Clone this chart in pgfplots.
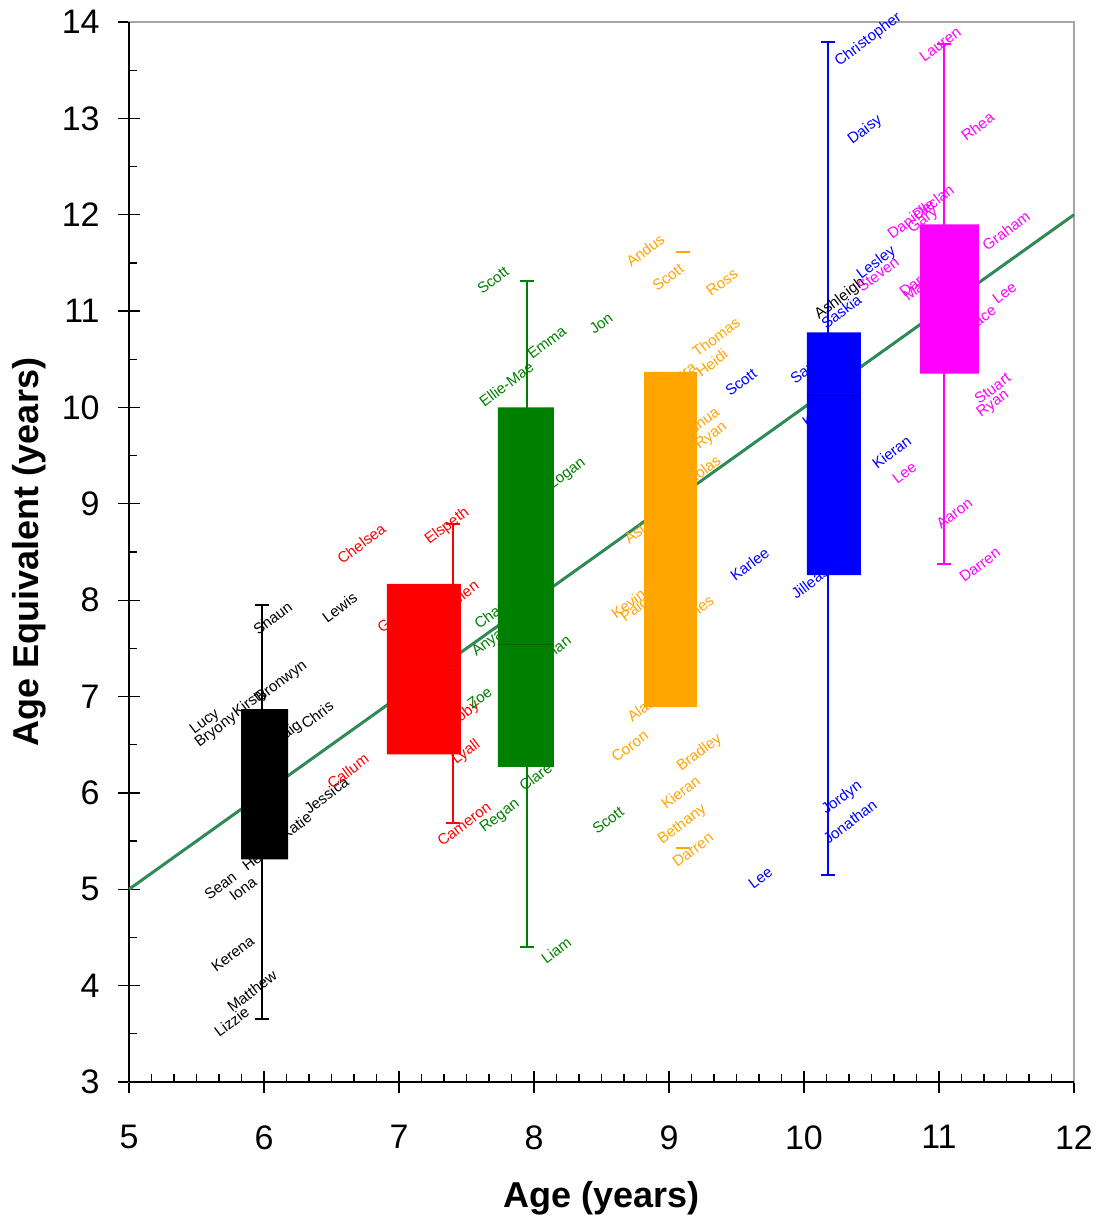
\documentclass[border=0pt]{standalone}
\usepackage{pgfplots}
\usepackage{pgfplotstable}
\pgfplotsset{compat=1.18}
\usepackage{fontspec}
\setmainfont{Liberation Sans}
\definecolor{trend}{RGB}{46,139,87}
\definecolor{cblack}{RGB}{0,0,0}
\definecolor{cred}{RGB}{255,0,0}
\definecolor{cgreen}{RGB}{0,128,0}
\definecolor{corange}{RGB}{255,165,0}
\definecolor{cblue}{RGB}{0,0,255}
\definecolor{cmag}{RGB}{255,0,255}

\pgfplotstableread{
x y name
5.926 7.628 Shaun
6.437 7.753 Lewis
5.452 6.601 Lucy
5.489 6.466 Bryony
5.770 6.777 Kirsty
5.941 6.933 Bronwyn
6.037 6.455 Craig
6.281 6.653 Chris
6.304 5.770 Jessica
6.126 5.501 Katie
5.844 5.179 Heather
5.563 4.878 Sean
5.748 4.868 Iona
5.615 4.131 Kerena
5.733 3.716 Matthew
5.637 3.456 Lizzie
10.081 10.907 Ashleigh
}\tblack

\pgfplotstableread{
x y name
6.548 8.365 Chelsea
7.193 8.572 Elspeth
7.333 7.877 Helen
6.844 7.649 Gemma
7.378 6.684 Toby
7.393 6.289 Lyall
6.474 6.030 Callum
7.289 5.438 Cameron
}\tred

\pgfplotstableread{
x y name
7.585 11.167 Scott
8.415 10.752 Jon
7.956 10.492 Emma
7.600 9.994 Ellie-Mae
8.104 9.143 Logan
7.563 7.690 Charlie
7.541 7.410 Anya
8.015 7.306 Ethan
7.511 6.860 Zoe
7.896 6.009 Clare
7.600 5.584 Regan
8.437 5.563 Scott
8.059 4.214 Liam
}\tgreen

\pgfplotstableread{
x y name
8.689 11.447 Andus
8.881 11.198 Scott
9.281 11.146 Ross
8.948 10.150 Laura
9.178 10.513 Thomas
9.207 10.306 Heidi
9.059 9.621 Joshua
9.193 9.558 Ryan
9.015 9.060 Nicholas
8.674 8.572 Astrid
8.578 7.794 Kevin
8.644 7.763 Paige
9.044 7.690 James
8.696 6.725 Alan
8.578 6.310 Coron
9.059 6.217 Bradley
8.948 5.822 Kieran
8.919 5.459 Bethany
9.030 5.220 Darren
}\torange

\pgfplotstableread{
x y name
10.230 13.533 Christopher
10.326 12.724 Daisy
10.393 11.323 Lesley
10.133 10.804 Saskia
9.422 10.108 Scott
9.904 10.233 Sam
9.993 9.787 Kyle
10.511 9.351 Kieran
9.459 8.188 Karlee
9.911 8.002 Jilleasa
10.133 5.770 Jordyn
10.148 5.459 Jonathan
9.593 4.992 Lee
}\tblue

\pgfplotstableread{
x y name
10.859 13.575 Lauren
11.170 12.755 Rhea
10.622 11.738 Danielle
10.770 11.800 Gary
10.807 11.935 Declan
11.326 11.613 Graham
10.400 11.188 Steven
10.711 11.136 Darcy
10.741 11.094 Mark
11.400 11.063 Lee
11.156 10.721 Grace
11.267 10.025 Stuart
11.281 9.890 Ryan
10.659 9.195 Lee
10.985 8.728 Aaron
11.156 8.178 Darren
}\tmag

\pgfplotsset{
  namelabels/.style={only marks, mark=*, mark size=0pt,
    nodes near coords, point meta=explicit symbolic,
    nodes near coords style={xshift=2pt, anchor=base west, inner sep=0pt, rotate=37,
      font=\fontsize{7.6}{9}\selectfont, text=#1}},
}

\begin{document}
\begin{tikzpicture}
\begin{axis}[
  at={(0,0)}, anchor=south west,
  scale only axis, width=472.5pt, height=530pt,
  xmin=5, xmax=12, ymin=3, ymax=14,
  xtick={5,...,12}, ytick={3,...,14},
  minor x tick num=5, minor y tick num=1,
  xtick pos=bottom, ytick pos=left,
  tick align=inside,
  major tick length=11pt, minor tick length=4pt,
  major x tick style={yshift=-5.5pt},
  major y tick style={xshift=-5.5pt},
  tick style={black, line width=0.6pt},
  axis line style={draw=gray!70, line width=0.6pt},
  clip=false,
  /pgf/number format/assume math mode=true,
  tick label style={font=\fontsize{17}{20}\selectfont},
  xticklabel style={anchor=north, inner sep=0pt, yshift=-21.5pt},
  yticklabel style={anchor=east, inner sep=0pt, xshift=-14.5pt},
  xlabel={Age (years)},
  ylabel={Age Equivalent (years)},
  label style={font=\fontsize{18}{21}\selectfont\bfseries},
  xlabel style={at={(axis description cs:0.5,-0.1180)}, anchor=base},
  ylabel style={at={(axis description cs:-0.0958,0.5)}, anchor=base},
]
% axis frame, left and bottom in black
\draw[black, line width=0.8pt] (rel axis cs:0,0) -- (rel axis cs:0,1);
\draw[black, line width=0.8pt] (rel axis cs:0,0) -- (rel axis cs:1,0);

% trend line y = x
\addplot[trend, line width=1.5pt] coordinates {(5,5) (12,12)};

% name labels
\addplot[namelabels=cblack] table[x=x, y=y, meta=name] {\tblack};
\addplot[namelabels=cred] table[x=x, y=y, meta=name] {\tred};
\addplot[namelabels=cgreen] table[x=x, y=y, meta=name] {\tgreen};
\addplot[namelabels=corange] table[x=x, y=y, meta=name] {\torange};
\addplot[namelabels=cblue] table[x=x, y=y, meta=name] {\tblue};
\addplot[namelabels=cmag] table[x=x, y=y, meta=name] {\tmag};

% whiskers
\addplot[cblack, line width=1pt] coordinates {(5.985,3.65) (5.985,7.95)};
\addplot[cblack, line width=1pt] coordinates {(5.933,7.95) (6.037,7.95)};
\addplot[cblack, line width=1pt] coordinates {(5.933,3.65) (6.037,3.65)};

\addplot[cred, line width=1pt] coordinates {(7.40,5.69) (7.40,8.79)};
\addplot[cred, line width=1pt] coordinates {(7.348,8.79) (7.452,8.79)};
\addplot[cred, line width=1pt] coordinates {(7.348,5.69) (7.452,5.69)};

\addplot[cgreen, line width=1pt] coordinates {(7.95,4.40) (7.95,11.31)};
\addplot[cgreen, line width=1pt] coordinates {(7.898,11.31) (8.002,11.31)};
\addplot[cgreen, line width=1pt] coordinates {(7.898,4.40) (8.002,4.40)};

\addplot[corange, line width=1pt] coordinates {(9.052,11.61) (9.156,11.61)};
\addplot[corange, line width=1pt] coordinates {(9.052,5.43) (9.156,5.43)};

\addplot[cblue, line width=1pt] coordinates {(10.18,5.15) (10.18,13.79)};
\addplot[cblue, line width=1pt] coordinates {(10.128,13.79) (10.232,13.79)};
\addplot[cblue, line width=1pt] coordinates {(10.128,5.15) (10.232,5.15)};

\addplot[cmag, line width=1pt] coordinates {(11.04,8.38) (11.04,13.77)};
\addplot[cmag, line width=1pt] coordinates {(10.988,13.77) (11.092,13.77)};
\addplot[cmag, line width=1pt] coordinates {(10.988,8.38) (11.092,8.38)};

% boxes
\addplot[fill=cblack, draw=none] coordinates {(5.830,5.31) (6.178,5.31) (6.178,6.87) (5.830,6.87) (5.830,5.31)};
\addplot[fill=cred, draw=none] coordinates {(6.911,6.40) (7.459,6.40) (7.459,8.17) (6.911,8.17) (6.911,6.40)};
\addplot[fill=cgreen, draw=none] coordinates {(7.733,6.27) (8.148,6.27) (8.148,10.00) (7.733,10.00) (7.733,6.27)};
\addplot[fill=corange, draw=none] coordinates {(8.815,6.89) (9.207,6.89) (9.207,10.37) (8.815,10.37) (8.815,6.89)};
\addplot[fill=cblue, draw=none] coordinates {(10.022,8.26) (10.422,8.26) (10.422,10.78) (10.022,10.78) (10.022,8.26)};
\addplot[fill=cmag, draw=none] coordinates {(10.859,10.35) (11.296,10.35) (11.296,11.90) (10.859,11.90) (10.859,10.35)};

% medians
\addplot[black, line width=0.4pt] coordinates {(5.830,6.10) (6.178,6.10)};
\addplot[red!92!black, line width=0.3pt] coordinates {(6.911,7.32) (7.459,7.32)};
\addplot[green!35!black, line width=0.4pt] coordinates {(7.733,7.54) (8.148,7.54)};
\addplot[blue!60!black, line width=0.4pt] coordinates {(10.022,10.13) (10.422,10.13)};
\end{axis}
\pgfresetboundingbox
\path[use as bounding box] (-64.5pt,-66.5pt) rectangle (486pt,541pt);
\end{tikzpicture}
\end{document}
